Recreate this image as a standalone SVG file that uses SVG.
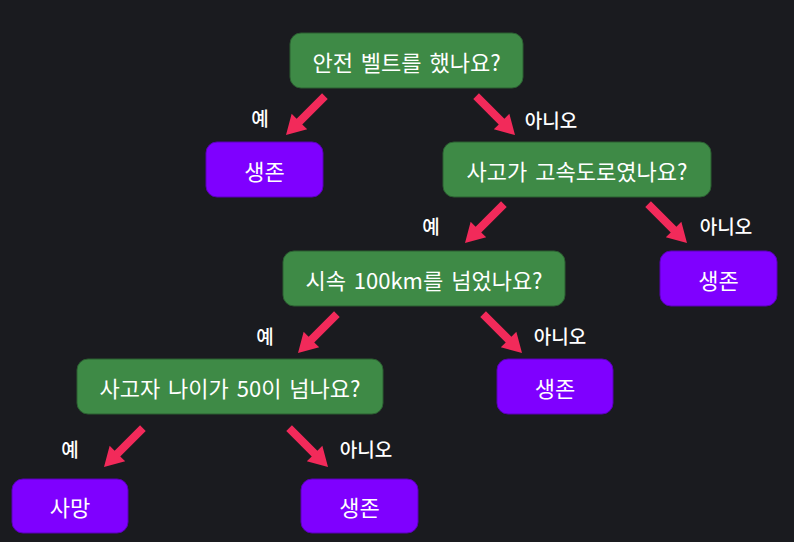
<svg xmlns="http://www.w3.org/2000/svg" width="794" height="542" viewBox="0 0 794 542">
<style>
.q rect{fill:#3e8a46;stroke:#2b5f31;stroke-width:1}
.r rect{fill:#7f00ff;stroke:#5a00b8;stroke-width:1}
.q text,.r text{fill:#ffffff;font-family:"Noto Sans CJK KR","Noto Sans",sans-serif;font-size:22px;text-anchor:middle;dominant-baseline:central}
.q text{word-spacing:3px}
.lbl{fill:#ffffff;font-family:"Noto Sans CJK KR",sans-serif;font-size:19px;font-weight:500;text-anchor:middle;dominant-baseline:central}
.arr{fill:#f22a5a}
</style>
<defs>
<path id="ar" d="M0,0 L-19,-11 L-19,-4 L-55,-4 L-55,4 L-19,4 L-19,11 Z"/>
</defs>
<rect width="794" height="542" fill="#1a1b1f"/>
<g id="connectors" class="arr">
<use href="#ar" transform="translate(286,135) rotate(135)"/>
<use href="#ar" transform="translate(515,135) rotate(45)"/>
<use href="#ar" transform="translate(465,243) rotate(135)"/>
<use href="#ar" transform="translate(687,243) rotate(45)"/>
<use href="#ar" transform="translate(298,353) rotate(135)"/>
<use href="#ar" transform="translate(522,353) rotate(45)"/>
<use href="#ar" transform="translate(104,467) rotate(135)"/>
<use href="#ar" transform="translate(328,467) rotate(45)"/>
</g>
<g id="labels">
<text class="lbl" x="260" y="117">예</text>
<text class="lbl" x="551" y="119">아니오</text>
<text class="lbl" x="431" y="225">예</text>
<text class="lbl" x="726" y="225">아니오</text>
<text class="lbl" x="265" y="335">예</text>
<text class="lbl" x="560" y="335">아니오</text>
<text class="lbl" x="70" y="448">예</text>
<text class="lbl" x="366" y="448">아니오</text>
</g>
<g id="q1" class="q"><rect x="290" y="33" width="233" height="55" rx="11"/><text x="406.5" y="60.5">안전 벨트를 했나요?</text></g>
<g id="s1" class="r"><rect x="206" y="142" width="117" height="55" rx="11"/><text x="264.5" y="169.5">생존</text></g>
<g id="q2" class="q"><rect x="443" y="142" width="268" height="55" rx="11"/><text x="577" y="169.5">사고가 고속도로였나요?</text></g>
<g id="q3" class="q"><rect x="283" y="251" width="282" height="55" rx="11"/><text x="424" y="278.5">시속 100km를 넘었나요?</text></g>
<g id="s2" class="r"><rect x="660" y="251" width="117" height="55" rx="11"/><text x="718.5" y="278.5">생존</text></g>
<g id="q4" class="q"><rect x="77" y="359" width="306" height="55" rx="11"/><text x="230" y="386.5">사고자 나이가 50이 넘나요?</text></g>
<g id="s3" class="r"><rect x="497" y="359" width="116" height="55" rx="11"/><text x="555" y="386.5">생존</text></g>
<g id="d1" class="r"><rect x="12" y="479" width="116" height="54" rx="11"/><text x="70" y="506">사망</text></g>
<g id="s4" class="r"><rect x="301" y="479" width="117" height="54" rx="11"/><text x="359.5" y="506">생존</text></g>
</svg>
